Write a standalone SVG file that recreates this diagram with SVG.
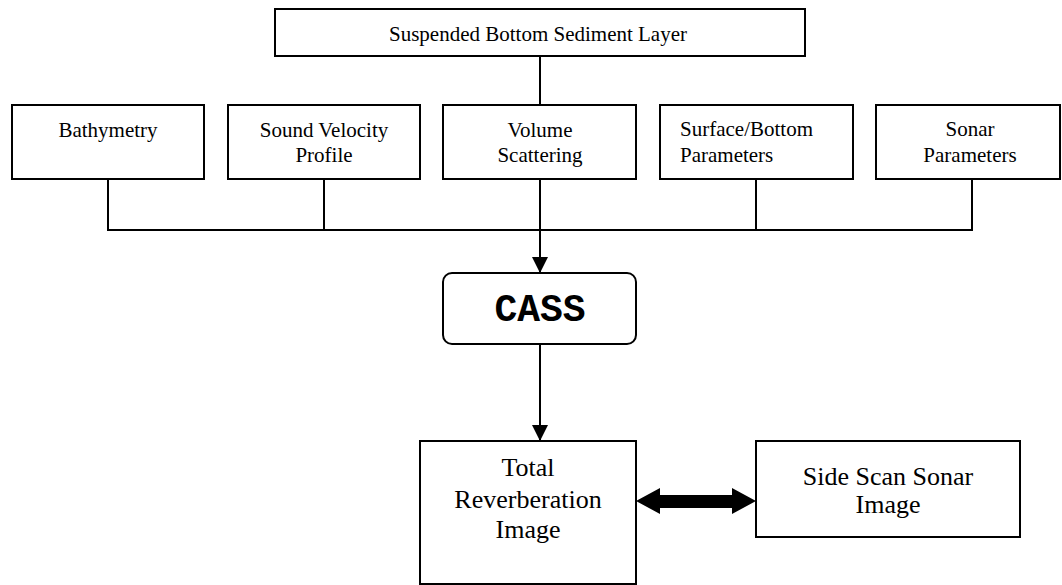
<svg xmlns="http://www.w3.org/2000/svg" width="1062" height="585" viewBox="0 0 1062 585">
<style>
.box{fill:#fff;stroke:#000;stroke-width:2}
.t{font-family:"Liberation Serif","Times New Roman",serif;font-size:21px;fill:#000;text-anchor:middle}
.tl{font-family:"Liberation Serif","Times New Roman",serif;font-size:26px;fill:#000;text-anchor:middle}
.ln{fill:none;stroke:#000;stroke-width:2}
.cass{font-family:"Liberation Mono","Courier New",monospace;font-weight:bold;font-size:38px;fill:#000;text-anchor:middle}
</style>
<defs>
<marker id="ah" markerWidth="16" markerHeight="16" viewBox="0 0 16 16" refX="16" refY="8" orient="auto" markerUnits="userSpaceOnUse">
<path d="M0,0 L16,8 L0,16 Z" fill="#000"/>
</marker>
</defs>
<rect width="1062" height="585" fill="#fff"/>
<g id="connectors">
<line class="ln" x1="540" y1="56" x2="540" y2="105"/>
<polyline class="ln" points="108,179 108,230 972,230 972,179"/>
<line class="ln" x1="324" y1="179" x2="324" y2="230"/>
<line class="ln" x1="756" y1="179" x2="756" y2="230"/>
<line class="ln" x1="540" y1="179" x2="540" y2="273" marker-end="url(#ah)"/>
<line class="ln" x1="540" y1="344" x2="540" y2="441" marker-end="url(#ah)"/>
<path d="M636,501 L660,488 L660,495 L732,495 L732,488 L756,501 L732,514 L732,508 L660,508 L660,514 Z" fill="#000"/>
</g>
<g id="sediment">
<rect class="box" x="275" y="9" width="530" height="47"/>
<text class="t" x="538" y="41">Suspended Bottom Sediment Layer</text>
</g>
<g id="bathymetry">
<rect class="box" x="12" y="105" width="192" height="74"/>
<text class="t" x="108" y="137">Bathymetry</text>
</g>
<g id="sound-velocity">
<rect class="box" x="228" y="105" width="192" height="74"/>
<text class="t" x="324" y="137">Sound Velocity</text>
<text class="t" x="324" y="162">Profile</text>
</g>
<g id="volume">
<rect class="box" x="443" y="105" width="193" height="74"/>
<text class="t" x="540" y="137">Volume</text>
<text class="t" x="540" y="162">Scattering</text>
</g>
<g id="surface-bottom">
<rect class="box" x="660" y="105" width="193" height="74"/>
<text class="t" x="680" y="136" style="text-anchor:start">Surface/Bottom</text>
<text class="t" x="680" y="162" style="text-anchor:start">Parameters</text>
</g>
<g id="sonar">
<rect class="box" x="876" y="105" width="184" height="74"/>
<text class="t" x="970" y="136">Sonar</text>
<text class="t" x="970" y="162">Parameters</text>
</g>
<g id="cass">
<rect class="box" x="443" y="273" width="193" height="71" rx="9"/>
<text class="cass" x="540" y="321">CASS</text>
</g>
<g id="total">
<rect class="box" x="420" y="441" width="216" height="143"/>
<text class="tl" x="528" y="476">Total</text>
<text class="tl" x="528" y="508">Reverberation</text>
<text class="tl" x="528" y="538">Image</text>
</g>
<g id="sidescan">
<rect class="box" x="756" y="441" width="264" height="96"/>
<text class="tl" x="888" y="485">Side Scan Sonar</text>
<text class="tl" x="888" y="513">Image</text>
</g>
</svg>
